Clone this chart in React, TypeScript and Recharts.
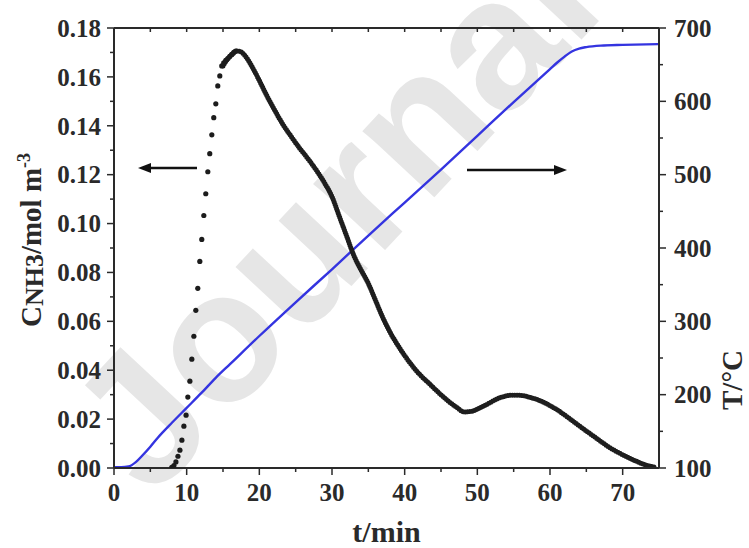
import React from 'react';
import {
  ComposedChart,
  Line,
  Scatter,
  XAxis,
  YAxis,
  Label,
} from 'recharts';

// ammonia concentration, sparse dots on the rising edge
const riseT = [7.95, 8.25, 8.52, 8.8, 9.07, 9.34, 9.62, 9.92, 10.16, 10.44, 10.71, 10.99, 11.26, 11.53, 11.81, 12.08, 12.36, 12.63, 12.91, 13.18, 13.46, 13.73, 14.01, 14.28, 14.56, 14.83, 15.1, 15.38, 15.65, 15.93, 16.2, 16.48, 16.75];
const riseC = [0.0003, 0.001, 0.0025, 0.0048, 0.0073, 0.0114, 0.0171, 0.0216, 0.029, 0.0355, 0.0445, 0.0539, 0.0645, 0.0735, 0.0845, 0.0935, 0.1033, 0.1122, 0.1212, 0.1286, 0.1363, 0.1433, 0.149, 0.1563, 0.1604, 0.1645, 0.1657, 0.1668, 0.1675, 0.1684, 0.1692, 0.17, 0.1706];

// dense part (dots overlap into a thick trace)
const denseT = [15.0, 15.6, 16.2, 16.9, 17.5, 18.2, 19.1, 20.0, 21.0, 22.0, 23.2, 24.3, 25.5, 26.7, 27.9, 29.0, 30.0, 31.0, 32.0, 33.0, 34.0, 35.0, 36.0, 37.0, 38.0, 39.0, 40.0, 41.0, 42.0, 43.4, 44.8, 46.2, 47.3, 48.2, 49.2, 50.3, 51.6, 52.5, 53.4, 54.4, 55.4, 56.3, 57.1, 58.5, 59.9, 61.3, 62.6, 64.0, 65.4, 66.8, 68.1, 69.5, 70.9, 72.0, 73.2, 74.6];
const denseC = [0.1645, 0.1672, 0.169, 0.1706, 0.1702, 0.168, 0.1636, 0.1585, 0.1525, 0.147, 0.1408, 0.136, 0.131, 0.1265, 0.1216, 0.1165, 0.111, 0.103, 0.095, 0.087, 0.081, 0.0755, 0.0685, 0.0615, 0.0555, 0.0505, 0.046, 0.042, 0.0385, 0.0345, 0.0305, 0.0269, 0.0245, 0.0229, 0.0232, 0.0245, 0.0265, 0.028, 0.029, 0.0297, 0.0298, 0.0296, 0.029, 0.0277, 0.0257, 0.0232, 0.0204, 0.0173, 0.0143, 0.0113, 0.0086, 0.0062, 0.0041, 0.0026, 0.0012, 0.0002];

// temperature
const tempT = [0, 1, 2, 3, 4, 5, 6, 8, 10, 12, 14, 16, 20, 25, 30, 35, 40, 45, 50, 55, 60, 61, 62, 63, 64, 65, 67, 70, 75];
const tempV = [101, 101, 102, 108, 118, 129, 141, 162, 182, 202, 223, 242, 280, 326, 371, 417, 462, 507, 553, 599, 644, 653, 661, 668, 672, 674, 676, 677, 678];

const xTicks = [0, 5, 10, 15, 20, 25, 30, 35, 40, 45, 50, 55, 60, 65, 70];
const leftTicks = [0, 0.01, 0.02, 0.03, 0.04, 0.05, 0.06, 0.07, 0.08, 0.09, 0.1, 0.11, 0.12, 0.13, 0.14, 0.15, 0.16, 0.17, 0.18];
const rightTicks = [100, 150, 200, 250, 300, 350, 400, 450, 500, 550, 600, 650, 700];

const riseData = riseT.map((t, i) => ({ t, c: riseC[i] }));
const denseData = denseT.map((t, i) => ({ t, c: denseC[i] }));
const tempData = tempT.map((t, i) => ({ t, T: tempV[i] }));

const INK = '#2a2a2a';
const FONT = '"Liberation Serif", "Times New Roman", serif';

const BottomTick = ({ x, y, payload }: any) => {
  const v = payload.value;
  const major = v % 10 === 0;
  return (
    <g>
      <line x1={x} x2={x} y1={y} y2={y + (major ? 7 : 4)} stroke={INK} strokeWidth={1.5} />
      {major && (
        <text x={x} y={y + 33} textAnchor="middle" fontFamily={FONT} fontWeight="bold" fontSize={25} fill={INK}>
          {v}
        </text>
      )}
    </g>
  );
};

const TopTick = ({ x, y }: any) => (
  <line x1={x} x2={x} y1={y} y2={y + 4} stroke={INK} strokeWidth={1.5} />
);

const LeftTick = ({ x, y, payload }: any) => {
  const v = payload.value;
  const major = Math.round(v * 100) % 2 === 0;
  return (
    <g>
      <line x1={x} x2={x - (major ? 7 : 4)} y1={y} y2={y} stroke={INK} strokeWidth={1.5} />
      {major && (
        <text x={x - 13} y={y} dy="0.35em" textAnchor="end" fontFamily={FONT} fontWeight="bold" fontSize={25} fill={INK}>
          {v.toFixed(2)}
        </text>
      )}
    </g>
  );
};

const RightTick = ({ x, y, payload }: any) => {
  const v = payload.value;
  const major = v % 100 === 0;
  return (
    <g>
      <line x1={x} x2={x + (major ? 7 : 4)} y1={y} y2={y} stroke={INK} strokeWidth={1.5} />
      {major && (
        <text x={x + 15} y={y} dy="0.35em" textAnchor="start" fontFamily={FONT} fontWeight="bold" fontSize={25} fill={INK}>
          {v}
        </text>
      )}
    </g>
  );
};

const Dot = (props: any) => <circle cx={props.cx} cy={props.cy} r={2.6} fill="#1c1c1c" />;

const LeftTitle = () => (
  <text
    transform="translate(41,240) rotate(-90)"
    textAnchor="middle"
    fontFamily={FONT}
    fontWeight="bold"
    fontSize={29}
    fill={INK}
  >
    C
    <tspan fontSize={26} dy={2}>NH3</tspan>
    <tspan dy={-2}>/mol m</tspan>
    <tspan fontSize={18} dy={-11}>-3</tspan>
  </text>
);

const RightTitle = () => (
  <text
    transform="translate(742,380) rotate(-90)"
    textAnchor="middle"
    fontFamily={FONT}
    fontWeight="bold"
    fontSize={29}
    fill={INK}
  >
    T/°C
  </text>
);

export default function App() {
  return (
    <div style={{ position: 'absolute', left: 0, top: 0, width: 749, height: 548, background: '#fff', overflow: 'hidden' }}>
      <svg width={749} height={548} style={{ position: 'absolute', left: 0, top: 0 }}>
        <text
          transform="translate(152,500) rotate(-47)"
          fontFamily='"Liberation Sans", Arial, sans-serif'
          fontWeight="bold"
          fontSize={185}
          fill="#e6e6e6"
        >
          Journal
        </text>
      </svg>
      <div style={{ position: 'absolute', left: 0, top: 0 }}>
        <ComposedChart width={749} height={548} margin={{ top: 0, right: 0, bottom: 0, left: 0 }}>
          <XAxis
            xAxisId="b"
            dataKey="t"
            type="number"
            domain={[0, 75]}
            ticks={xTicks}
            allowDataOverflow
            height={80}
            tickSize={0}
            tickMargin={0}
            tickLine={false}
            tick={<BottomTick />}
            axisLine={{ stroke: INK, strokeWidth: 2 }}
            interval={0}
          >
            <Label
              value="t/min"
              position="insideBottom"
              offset={6}
              style={{ fontFamily: FONT, fontWeight: 'bold', fontSize: 30, fill: INK }}
            />
          </XAxis>
          <XAxis
            xAxisId="top"
            orientation="top"
            dataKey="t"
            type="number"
            domain={[0, 75]}
            ticks={xTicks}
            allowDataOverflow
            height={28}
            tickSize={0}
            tickMargin={0}
            tickLine={false}
            tick={<TopTick />}
            axisLine={{ stroke: INK, strokeWidth: 2 }}
            interval={0}
          />
          <YAxis
            yAxisId="l"
            type="number"
            domain={[0, 0.18]}
            ticks={leftTicks}
            allowDataOverflow
            width={114}
            tickSize={0}
            tickMargin={0}
            tickLine={false}
            tick={<LeftTick />}
            axisLine={{ stroke: INK, strokeWidth: 2 }}
            interval={0}
          >
            <Label content={<LeftTitle />} />
          </YAxis>
          <YAxis
            yAxisId="r"
            orientation="right"
            type="number"
            domain={[100, 700]}
            ticks={rightTicks}
            allowDataOverflow
            width={90}
            tickSize={0}
            tickMargin={0}
            tickLine={false}
            tick={<RightTick />}
            axisLine={{ stroke: INK, strokeWidth: 2 }}
            interval={0}
          >
            <Label content={<RightTitle />} />
          </YAxis>
          <Line
            xAxisId="b"
            yAxisId="r"
            data={tempData}
            dataKey="T"
            type="monotone"
            stroke="#3434e0"
            strokeWidth={2.4}
            dot={false}
            isAnimationActive={false}
          />
          <Line
            xAxisId="b"
            yAxisId="l"
            data={denseData}
            dataKey="c"
            type="monotone"
            stroke="#1e1e1e"
            strokeWidth={5}
            strokeLinecap="round"
            strokeDasharray="0 2.3"
            dot={false}
            isAnimationActive={false}
          />
          <Scatter
            xAxisId="b"
            yAxisId="l"
            data={riseData}
            dataKey="c"
            shape={<Dot />}
            isAnimationActive={false}
          />
        </ComposedChart>
      </div>
      <svg width={749} height={548} style={{ position: 'absolute', left: 0, top: 0, pointerEvents: 'none' }}>
        <line x1={197} y1={168} x2={148} y2={168} stroke="#111" strokeWidth={2.5} />
        <polygon points="138,168 151,163 151,173" fill="#111" />
        <line x1={467} y1={170} x2={556} y2={170} stroke="#111" strokeWidth={2.5} />
        <polygon points="567,170 554,165 554,175" fill="#111" />
      </svg>
    </div>
  );
}
